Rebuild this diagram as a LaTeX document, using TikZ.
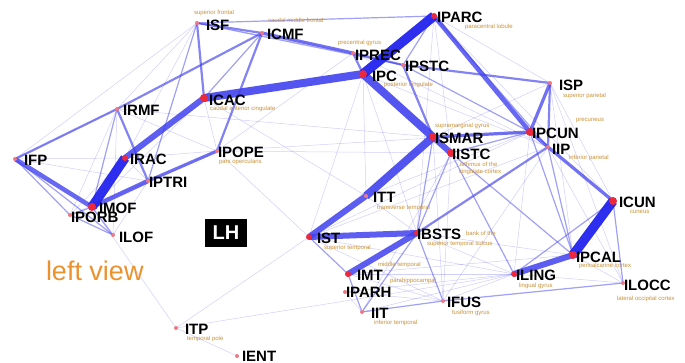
\documentclass[tikz,border=0pt]{standalone}
\usepackage{fontspec}
\setmainfont{Liberation Sans}
\begin{document}
\begin{tikzpicture}[x=1pt,y=-1pt,
  every node/.style={inner sep=0pt,outer sep=0pt},
  big/.style={circle,fill=nodered,minimum size=8pt},
  mid/.style={circle,fill=nodered,minimum size=6pt},
  sml/.style={circle,fill=nodepink,minimum size=4pt},
  lab/.style={anchor=west,font=\fontsize{15}{15}\selectfont\bfseries,text=black},
  sub/.style={anchor=west,font=\fontsize{6}{6}\selectfont,text=subc},
  ea/.style={draw=edgec,line width=0.5pt,opacity=0.25},
  eb/.style={draw=edgec,line width=1.2pt,opacity=0.5},
  ec/.style={draw=edgec,line width=2.2pt,opacity=0.65},
  ed/.style={draw=edgec,line width=3.2pt,opacity=0.75},
  ee/.style={draw=edgec,line width=4.5pt,opacity=0.8},
  ef/.style={draw=edgec,line width=6pt,opacity=0.85},
  eg/.style={draw=edgec,line width=8pt,opacity=0.9},
  eh/.style={draw=edgedark,line width=9.5pt,opacity=0.95}
]
\definecolor{edgec}{RGB}{65,65,238}
\definecolor{edgedark}{RGB}{35,35,238}
\definecolor{nodered}{RGB}{235,40,60}
\definecolor{nodepink}{RGB}{240,120,130}
\definecolor{subc}{RGB}{200,145,55}
\definecolor{viewc}{RGB}{235,145,45}
\useasboundingbox (0,0) rectangle (685,363);

% node positions
\coordinate (ISF) at (197,23);
\coordinate (ICMF) at (262,33);
\coordinate (IPARC) at (434,16);
\coordinate (IPREC) at (353,53);
\coordinate (IPSTC) at (403,65);
\coordinate (IPC) at (363,74);
\coordinate (ISP) at (550,83);
\coordinate (IRMF) at (117,109);
\coordinate (ICAC) at (204,98);
\coordinate (IFP) at (15,159);
\coordinate (IRAC) at (125,158);
\coordinate (IPOPE) at (217,151);
\coordinate (IPTRI) at (148,181);
\coordinate (IMOF) at (92,207);
\coordinate (IPORB) at (70,215);
\coordinate (ILOF) at (113,235);
\coordinate (ISMAR) at (433,137);
\coordinate (IISTC) at (451,153);
\coordinate (IPCUN) at (530,132);
\coordinate (IIP) at (548,147);
\coordinate (ITT) at (366,196);
\coordinate (ICUN) at (613,201);
\coordinate (IST) at (309,237);
\coordinate (IBSTS) at (417,233);
\coordinate (IPCAL) at (573,255);
\coordinate (IMT) at (348,274);
\coordinate (IPARH) at (345,292);
\coordinate (ILING) at (514,274);
\coordinate (IFUS) at (443,301);
\coordinate (IIT) at (362,312);
\coordinate (ILOCC) at (623,283);
\coordinate (ITP) at (176,328);
\coordinate (IENT) at (237,356);

% thin edges
\foreach \a/\b in {ISF/IRMF,ISF/IFP,ISF/IRAC,IRMF/IPORB,IRMF/ILOF,IRMF/IPOPE,IFP/IRAC,IFP/IPTRI,
  IPTRI/ILOF,IRAC/IPTRI,IRAC/IPORB,ICAC/IMOF,ICAC/IPOPE,IPOPE/IPREC,IPC/ITT,IPC/IBSTS,IPC/IST,
  IPARC/ISP,IPARC/IISTC,IPARC/ICUN,ISP/ICUN,ISP/IPCAL,ISP/ILOCC,ISP/ISMAR,IPCUN/ILING,IIP/ILOCC,
  IIP/IFUS,IISTC/IFUS,IISTC/IIT,ISMAR/IST,ISMAR/IFUS,ITT/IBSTS,IST/IIP,IST/ILING,IBSTS/ILING,
  IBSTS/IPCAL,ILING/ILOCC,IPCAL/ILOCC,IIT/ILING,IFUS/ILING,IMT/IFUS,IPARH/IFUS,IPARH/ILING,
  ITP/IMOF,ITP/IST,ITP/IENT,ITP/ILING,IPOPE/IST,IPOPE/IISTC,IRMF/ISMAR,IPOPE/IPCUN,ICAC/ITT,
  IPREC/IIP,IPC/IIP,IPARC/IBSTS,IST/IPCUN,IMT/IPCAL,IRAC/IPOPE,IFP/IRMF,ICMF/IPSTC,ISF/IPREC,
  IPORB/IPTRI,IMOF/IPOPE,ITT/IPCUN,IPARH/IIT,IST/IFUS,IMT/ILING}
  \draw[ea] (\a) -- (\b);

% light edges
\foreach \a/\b in {ISF/IPTRI,IRMF/IMOF,IFP/IPORB,IFP/ILOF,IPORB/ILOF,IMOF/ILOF,IST/IMT,IBSTS/IIT,
  IMT/IIT,IISTC/IPCAL,IPCUN/IPCAL,IFUS/ILOCC,IIT/IFUS,ICUN/ILOCC,ISF/IPARC,ISF/IPSTC,IISTC/ILING,
  ISMAR/IBSTS,IPCUN/IISTC,IPARC/IIP,ICMF/ICAC,IIP/IPCAL,IPARC/IPSTC,IISTC/IBSTS,ICUN/ILING,
  IPSTC/IPCUN,IBSTS/IFUS,IMOF/IPORB}
  \draw[eb] (\a) -- (\b);

% medium edges
\foreach \a/\b in {ISF/ICAC,ISF/ICMF,ICMF/IPOPE,ICMF/IRMF,IRMF/IFP,IRMF/IPTRI,IPSTC/ISMAR,
  IPSTC/ISP,IPREC/IPSTC,IIP/IBSTS,ISP/IIP,IPC/IPREC}
  \draw[ec] (\a) -- (\b);
\foreach \a/\b in {IPTRI/IPOPE,ICMF/IPREC,ISMAR/IPCUN,IPCUN/ICUN,ISP/IPCUN}
  \draw[ed] (\a) -- (\b);
\foreach \a/\b in {IFP/IMOF,IMOF/IPTRI,IPARC/IPCUN}
  \draw[ee] (\a) -- (\b);
\foreach \a/\b in {ICAC/IRAC,ITT/IST,IST/IBSTS,IBSTS/IMT,IPCAL/ILING,ISMAR/IISTC}
  \draw[ef] (\a) -- (\b);
\foreach \a/\b in {IPC/ICAC,IPC/ISMAR,ISMAR/ITT}
  \draw[eg] (\a) -- (\b);
\foreach \a/\b in {IPARC/IPC,ICUN/IPCAL,IRAC/IMOF}
  \draw[eh] (\a) -- (\b);

% dots
\foreach \n in {IPC,ICAC,ISMAR,IISTC,IPCUN,ICUN,IPCAL,IMOF}
  \node[big] (d-\n) at (\n) {};
\foreach \n in {IPARC,IRAC,IST,IBSTS,IMT,ILING}
  \node[mid] (d-\n) at (\n) {};
\foreach \n in {ISF,ICMF,IPREC,IPSTC,ISP,IRMF,IFP,IPOPE,IPTRI,IPORB,ILOF,IIP,ITT,IPARH,IFUS,IIT,ILOCC,ITP,IENT}
  \node[sml] (d-\n) at (\n) {};

% labels
\foreach \n/\x/\y in {ISF/206/25,ICMF/267/34,IPARC/437/17,IPREC/355/55,IPSTC/405/66,IPC/372/76,
  ISP/559/85,IRMF/123/110,ICAC/209/100,IFP/24/160,IRAC/130/159,IPOPE/218/152,IPTRI/149/182,
  IMOF/99/208,IPORB/71/217,ILOF/119/237,ISMAR/435/138,IISTC/452/154,IPCUN/532/133,IIP/552/149,
  ITT/373/197,ICUN/619/202,IST/317/238,IBSTS/417/234,IPCAL/576/257,IMT/357/275,IPARH/346/292,
  ILING/516/275,IFUS/447/302,IIT/371/313,ILOCC/624/285,ITP/185/329,IENT/242/356}
  \node[lab] (l-\n) at (\x,\y) {\n};

% subtitles
\node[sub] (s-ISF) at (194,13) {superior frontal};
\node[sub] (s-ICMF) at (268,20) {caudal middle frontal};
\node[sub] (s-IPARC) at (465,27) {paracentral lobule};
\node[sub] (s-IPREC) at (338,43) {precentral gyrus};
\node[sub] (s-IPC) at (384,85) {posterior cingulate};
\node[sub] (s-ISP) at (563,96) {superior parietal};
\node[sub] (s-ICAC) at (210,109) {caudal anterior cingulate};
\node[sub] (s-IPOPE) at (219,162) {pars opercularis};
\node[sub] (s-ISMAR) at (435,126) {supramarginal gyrus};
\node[sub] (s-IISTC1) at (460,164) {isthmus of the};
\node[sub] (s-IISTC2) at (459,172) {cingulate cortex};
\node[sub] (s-IPCUN) at (576,121) {precuneus};
\node[sub] (s-IIP) at (569,158) {inferior parietal};
\node[sub] (s-ITT) at (377,208) {transverse temporal};
\node[sub] (s-ICUN) at (630,212) {cuneus};
\node[sub] (s-IST) at (324,248) {superior temporal};
\node[sub] (s-IBSTS1) at (466,233) {bank of the};
\node[sub] (s-IBSTS2) at (427,244) {superior temporal sulcus};
\node[sub] (s-IPCAL) at (579,266) {pericalcarine cortex};
\node[sub] (s-IMT) at (378,265) {middle temporal};
\node[sub] (s-IPARH) at (390,281) {parahippocampal};
\node[sub] (s-ILING) at (519,286) {lingual gyrus};
\node[sub] (s-IFUS) at (452,313) {fusiform gyrus};
\node[sub] (s-IIT) at (374,323) {inferior temporal};
\node[sub] (s-ILOCC) at (617,299) {lateral occipital cortex};
\node[sub] (s-ITP) at (187,339) {temporal pole};

% LH box and view label
\node[fill=black,text=white,minimum width=42pt,minimum height=28pt,font=\fontsize{20}{20}\selectfont\bfseries] (lh) at (226,233) {LH};
\node[anchor=west,text=viewc,font=\fontsize{27}{27}\selectfont] (view) at (46,271) {left view};
\end{tikzpicture}
\end{document}
